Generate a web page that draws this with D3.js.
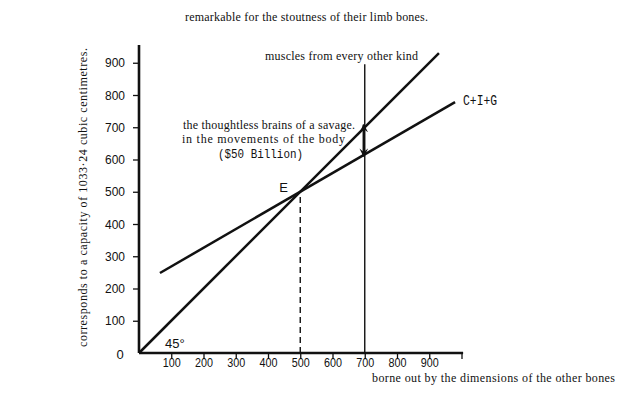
<!DOCTYPE html>
<html>
<head>
<meta charset="utf-8">
<script src="https://cdn.jsdelivr.net/npm/d3@7"></script>
<style>
  html, body { margin: 0; padding: 0; background: #fff; }
  svg { display: block; }
</style>
</head>
<body>
<svg id="chart" width="624" height="395"></svg>
<script>
// ---- data ----
const xTicks = [100, 200, 300, 400, 500, 600, 700, 800, 900];
const yTicks = [0, 100, 200, 300, 400, 500, 600, 700, 800, 900];
const line45X = [0, 930];
const line45Y = [0, 930];
const cigX = [65, 980];
const cigY = [248, 778];
const equilibrium = { x: 500, y: 500, label: "E" };
const fullEmployment = { x: 700, top: 895 };
const gapArrow = { x: 700, top: 708, bottom: 610 };
const texts = {
  title: "remarkable for the stoutness of their limb bones.",
  yLabel: "corresponds to a capacity of 1033·24 cubic centimetres.",
  xLabel: "borne out by the dimensions of the other bones",
  vLine: "muscles from every other kind",
  cig: "C+I+G",
  gap1: "the thoughtless brains of a savage.",
  gap2: "in the movements of the body",
  gap3: "($50 Billion)",
  angle: "45°"
};

// ---- scales ----
const x = d3.scaleLinear().domain([0, 1000]).range([139, 461.5]);
const y = d3.scaleLinear().domain([0, 1000]).range([353, 30.5]);

const svg = d3.select("#chart");
const ink = "#111";
const serif = "'Liberation Serif', 'DejaVu Serif', serif";
const sans = "'Liberation Sans', Arial, sans-serif";
const mono = "'Liberation Mono', 'DejaVu Sans Mono', monospace";

// ---- axes ----
const xAxis = d3.axisBottom(x).tickValues(xTicks.concat([1000])).tickSize(6)
  .tickFormat(d => d === 1000 ? "" : d);
const gx = svg.append("g").attr("transform", `translate(0,${y(0)})`).call(xAxis);
gx.select(".domain").remove();
gx.selectAll(".tick line").attr("stroke", ink).attr("stroke-width", 1.3);
gx.selectAll(".tick text").attr("font-family", sans).attr("font-size", 13)
  .attr("fill", ink).attr("y", 5)
  .attr("textLength", d => d === 1000 ? null : 18).attr("lengthAdjust", "spacingAndGlyphs");

const yAxis = d3.axisLeft(y).tickValues(yTicks.filter(d => d > 0)).tickSize(6).tickPadding(8);
const gy = svg.append("g").attr("transform", `translate(${x(0)},0)`).call(yAxis);
gy.select(".domain").remove();
gy.selectAll(".tick line").attr("stroke", ink).attr("stroke-width", 1.3);
gy.selectAll(".tick text").attr("font-family", sans).attr("font-size", 13).attr("fill", ink)
  .attr("textLength", 20).attr("lengthAdjust", "spacingAndGlyphs");

// zero label
svg.append("text").attr("x", x(0) - 19).attr("y", y(0) + 6)
  .attr("text-anchor", "middle").attr("font-family", sans).attr("font-size", 13)
  .attr("fill", ink).text(yTicks[0]);

// axis lines
svg.append("line").attr("x1", x(0)).attr("x2", x(1005)).attr("y1", y(0)).attr("y2", y(0))
  .attr("stroke", ink).attr("stroke-width", 2.6);
svg.append("line").attr("x1", x(0)).attr("x2", x(0)).attr("y1", y(0)).attr("y2", y(955))
  .attr("stroke", ink).attr("stroke-width", 2.6);

const line = d3.line().x(d => x(d[0])).y(d => y(d[1]));

// 45 degree line
svg.append("path").datum(line45X.map((v, i) => [v, line45Y[i]])).attr("d", line)
  .attr("fill", "none").attr("stroke", ink).attr("stroke-width", 2.5);

// C+I+G line
svg.append("path").datum(cigX.map((v, i) => [v, cigY[i]])).attr("d", line)
  .attr("fill", "none").attr("stroke", ink).attr("stroke-width", 2.5);

// full employment vertical line
svg.append("path").datum([[fullEmployment.x, 0], [fullEmployment.x, fullEmployment.top]]).attr("d", line)
  .attr("fill", "none").attr("stroke", ink).attr("stroke-width", 1.4);

// dashed line at equilibrium
svg.append("path").datum([[equilibrium.x, 0], [equilibrium.x, equilibrium.y]]).attr("d", line)
  .attr("fill", "none").attr("stroke", ink).attr("stroke-width", 1.4)
  .attr("stroke-dasharray", "6,4");

// double arrow (gap)
const defs = svg.append("defs");
defs.append("marker").attr("id", "ah").attr("viewBox", "0 0 10 10")
  .attr("refX", 9).attr("refY", 5).attr("markerWidth", 3.6).attr("markerHeight", 3.6)
  .attr("orient", "auto-start-reverse").attr("markerUnits", "strokeWidth")
  .append("path").attr("d", "M0,0 L10,5 L0,10 L4,5 Z").attr("fill", ink);
svg.append("path").datum([[gapArrow.x, gapArrow.top], [gapArrow.x, gapArrow.bottom]])
  .attr("d", line).attr("transform", "translate(-1,0)")
  .attr("fill", "none").attr("stroke", ink).attr("stroke-width", 2.4)
  .attr("marker-start", "url(#ah)").attr("marker-end", "url(#ah)");

// ---- texts ----
svg.append("text").attr("x", 185).attr("y", 21).attr("font-family", serif).attr("font-size", 12)
  .attr("textLength", 243).attr("lengthAdjust", "spacing").attr("fill", ink).text(texts.title);

svg.append("text").attr("transform", "translate(87,347) rotate(-90)")
  .attr("font-family", serif).attr("font-size", 12)
  .attr("textLength", 299).attr("lengthAdjust", "spacing").attr("fill", ink).text(texts.yLabel);

svg.append("text").attr("x", 372).attr("y", 382).attr("font-family", serif).attr("font-size", 12)
  .attr("textLength", 243).attr("lengthAdjust", "spacing").attr("fill", ink).text(texts.xLabel);

svg.append("text").attr("x", 265).attr("y", 60).attr("font-family", serif).attr("font-size", 12)
  .attr("textLength", 153).attr("lengthAdjust", "spacing").attr("fill", ink).text(texts.vLine);

svg.append("text").attr("x", x(cigX[1]) + 8).attr("y", 105).attr("font-family", mono).attr("font-size", 14)
  .attr("textLength", 34).attr("lengthAdjust", "spacingAndGlyphs").attr("fill", ink).text(texts.cig);

svg.append("text").attr("x", 183).attr("y", 129).attr("font-family", serif).attr("font-size", 12)
  .attr("textLength", 172).attr("lengthAdjust", "spacing").attr("fill", ink).text(texts.gap1);
svg.append("text").attr("x", 182).attr("y", 143).attr("font-family", serif).attr("font-size", 12)
  .attr("textLength", 163).attr("lengthAdjust", "spacing").attr("fill", ink).text(texts.gap2);
svg.append("text").attr("x", 218).attr("y", 158).attr("font-family", mono).attr("font-size", 13.5)
  .attr("textLength", 85).attr("lengthAdjust", "spacingAndGlyphs").attr("fill", ink).text(texts.gap3);

svg.append("text").attr("x", x(equilibrium.x) - 21).attr("y", y(equilibrium.y))
  .attr("font-family", sans).attr("font-size", 13).attr("fill", ink).text(equilibrium.label);

svg.append("text").attr("x", 165).attr("y", 348).attr("font-family", sans).attr("font-size", 13)
  .attr("fill", ink).text(texts.angle);
</script>
</body>
</html>
